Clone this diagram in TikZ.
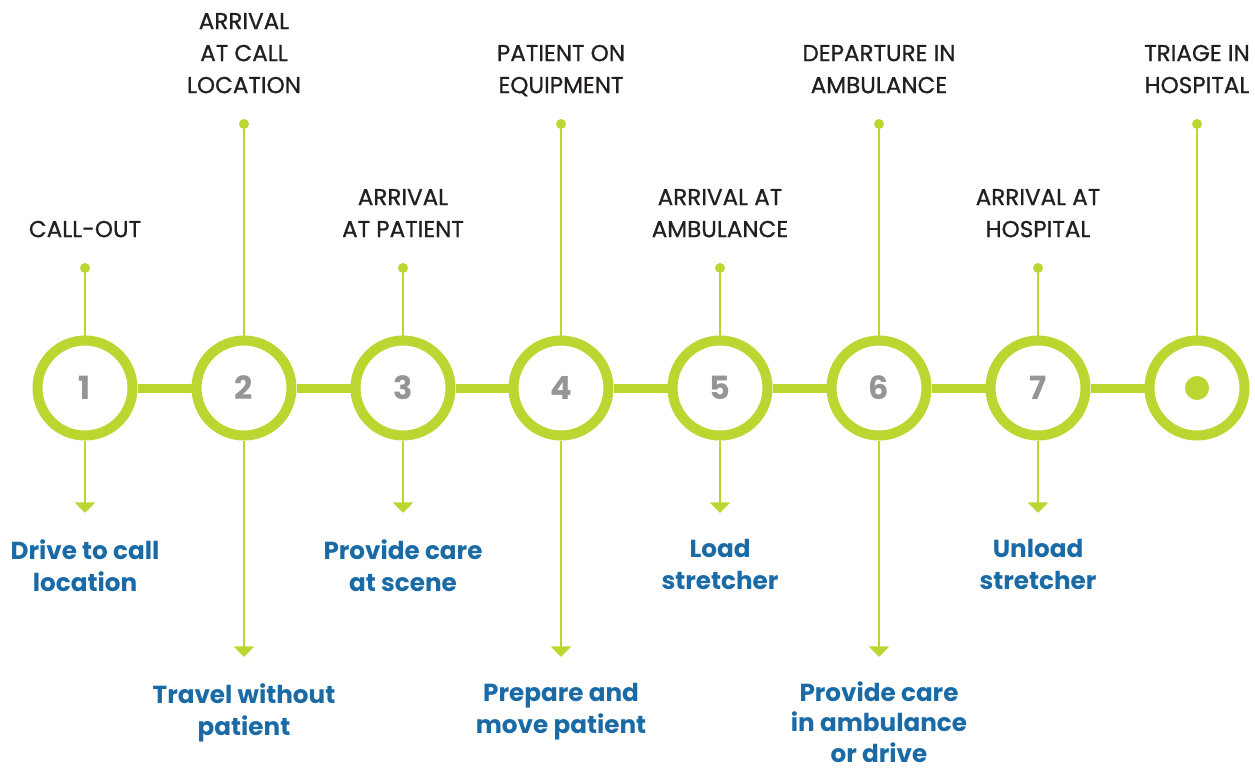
\documentclass[tikz,border=0pt]{standalone}
\usepackage{fontspec}
\setmainfont{Poppins}
\newfontfamily\medfont[FakeBold=0.8]{Poppins}
\usetikzlibrary{arrows.meta, positioning}

\definecolor{lime}{RGB}{188,214,49}
\definecolor{numgray}{RGB}{147,149,152}
\definecolor{stepblue}{RGB}{26,106,166}
\definecolor{darktext}{RGB}{35,31,32}

\begin{document}
\begin{tikzpicture}[x=0.75pt,y=-0.75pt,
	stage/.style={circle,draw=lime,line width=7.5pt,fill=white,minimum size=71.25pt,inner sep=0pt,
		text=numgray,font=\fontsize{24}{24}\selectfont\bfseries},
	pin/.style={circle,fill=lime,minimum size=7.5pt,inner sep=0pt},
	bar/.style={lime,line width=6.75pt},
	stem/.style={lime,line width=2pt},
	drop/.style={lime,line width=2pt,-{Triangle[width=15pt,length=8pt]}},
	toplabel/.style={align=center,inner sep=0pt,text depth=0pt,text=darktext,
		font=\fontsize{17.3}{24}\selectfont\medfont},
	steplabel/.style={align=center,inner sep=0pt,text depth=0pt,text=stepblue,
		font=\fontsize{18.5}{24}\selectfont\bfseries}]
	\useasboundingbox (0,0) rectangle (1255,769);

	% stages
	\node[stage] (c1) at (85,388) {1};
	\node[stage] (c2) at (244,388) {2};
	\node[stage] (c3) at (403,388) {3};
	\node[stage] (c4) at (561,388) {4};
	\node[stage] (c5) at (720,388) {5};
	\node[stage] (c6) at (879,388) {6};
	\node[stage] (c7) at (1038,388) {7};
	\node[stage] (c8) at (1197,388) {};
	\node[circle,fill=lime,minimum size=18pt,inner sep=0pt] (end) at (c8) {};

	\draw[bar] (c1) -- (c2);
	\draw[bar] (c2) -- (c3);
	\draw[bar] (c3) -- (c4);
	\draw[bar] (c4) -- (c5);
	\draw[bar] (c5) -- (c6);
	\draw[bar] (c6) -- (c7);
	\draw[bar] (c7) -- (c8);

	% events above
	\node[pin] (t1) at (85,268) {};
	\node[pin] (t2) at (244,124) {};
	\node[pin] (t3) at (403,268) {};
	\node[pin] (t4) at (561,124) {};
	\node[pin] (t5) at (720,268) {};
	\node[pin] (t6) at (879,124) {};
	\node[pin] (t7) at (1038,268) {};
	\node[pin] (t8) at (1197,124) {};
	\foreach \i in {1,...,8} \draw[stem] (t\i) -- (c\i);

	\node[toplabel,above=19pt of t1,anchor=south] {CALL-OUT};
	\node[toplabel,above=19pt of t2,anchor=south] {ARRIVAL\\AT CALL\\LOCATION};
	\node[toplabel,above=19pt of t3,anchor=south] {ARRIVAL\\AT PATIENT};
	\node[toplabel,above=19pt of t4,anchor=south] {PATIENT ON\\EQUIPMENT};
	\node[toplabel,above=19pt of t5,anchor=south] {ARRIVAL AT\\AMBULANCE};
	\node[toplabel,above=19pt of t6,anchor=south] {DEPARTURE IN\\AMBULANCE};
	\node[toplabel,above=19pt of t7,anchor=south] {ARRIVAL AT\\HOSPITAL};
	\node[toplabel,above=19pt of t8,anchor=south] {TRIAGE IN\\HOSPITAL};

	% activities below
	\coordinate (e1) at (85,513);
	\coordinate (e2) at (244,657);
	\coordinate (e3) at (403,513);
	\coordinate (e4) at (561,657);
	\coordinate (e5) at (720,513);
	\coordinate (e6) at (879,657);
	\coordinate (e7) at (1038,513);
	\foreach \i in {1,...,7} \draw[drop] (c\i) -- (e\i);

	\node[steplabel,below=19.5pt of e1,anchor=north] {Drive to call\\location};
	\node[steplabel,below=19.5pt of e2,anchor=north] {Travel without\\patient};
	\node[steplabel,below=19.5pt of e3,anchor=north] {Provide care\\at scene};
	\node[steplabel,below=19.5pt of e4,anchor=north] {Prepare and\\move patient};
	\node[steplabel,below=19.5pt of e5,anchor=north] {Load\\stretcher};
	\node[steplabel,below=18pt of e6,anchor=north,font=\fontsize{18.5}{23.2}\selectfont\bfseries]
		{Provide care\\in ambulance\\or drive};
	\node[steplabel,below=19.5pt of e7,anchor=north] {Unload\\stretcher};
\end{tikzpicture}
\end{document}
